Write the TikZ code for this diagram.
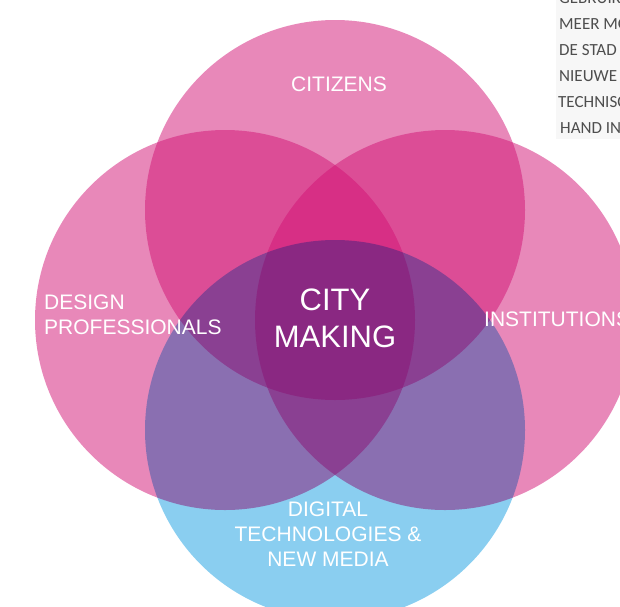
\documentclass[tikz,border=0pt]{standalone}
\usepackage{fontspec}
\setmainfont{Liberation Sans}
\newfontfamily\notefont{Carlito}
\usetikzlibrary{positioning}
\definecolor{venpink}{RGB}{209,18,116}
\definecolor{venblue}{RGB}{138,206,240}
\definecolor{notegray}{RGB}{78,78,78}

\begin{document}
\begin{tikzpicture}[x=1pt, y=-1pt, node distance=110pt,
                    circ/.style={circle, minimum size=380pt, inner sep=0pt},
                    pinkcirc/.style={circ, fill=venpink, fill opacity=0.5, blend mode=darken},
                    lbl/.style={text=white, inner sep=0pt, align=center, font=\fontsize{21}{25}\selectfont},
                    note/.style={anchor=base west, inner sep=0pt, text=notegray, font=\notefont\fontsize{17}{17}\selectfont}]

  \useasboundingbox (0,0) rectangle (620,606);

  % notes column, cut by the page edge
  \fill[black!3] (556,0) rectangle (620,139);
  \node[note] (n1) at (559,3.5) {GEBRUIK};
  \node[note] (n2) at (559,29.4) {MEER MO};
  \node[note] (n3) at (559,55.3) {DE STAD};
  \node[note] (n4) at (559,81.2) {NIEUWE};
  \node[note] (n5) at (558,107) {TECHNISC};
  \node[note] (n6) at (560,133) {HAND IN};

  % the four circles
  \coordinate (centre) at (335,320);
  \node[circ, fill=venblue] (digital) [below of=centre] {};
  \node[pinkcirc] (citizens) [above of=centre] {};
  \node[pinkcirc] (design) [left of=centre] {};
  \node[pinkcirc] (institutions) [right of=centre] {};

  % labels
  \node[lbl] (l1) at (339,84.5) {CITIZENS};
  \node[lbl, align=left, anchor=west] (l2) at (44,314.5) {DESIGN\\PROFESSIONALS};
  \node[lbl, anchor=west] (l3) at (484,319) {INSTITUTIONS};
  \node[lbl] (l4) at (328,534.5) {DIGITAL\\TECHNOLOGIES \&\\NEW MEDIA};
  \node[lbl, font=\fontsize{31}{37}\selectfont] (l5) at (335,318) {CITY\\MAKING};

\end{tikzpicture}
\end{document}
